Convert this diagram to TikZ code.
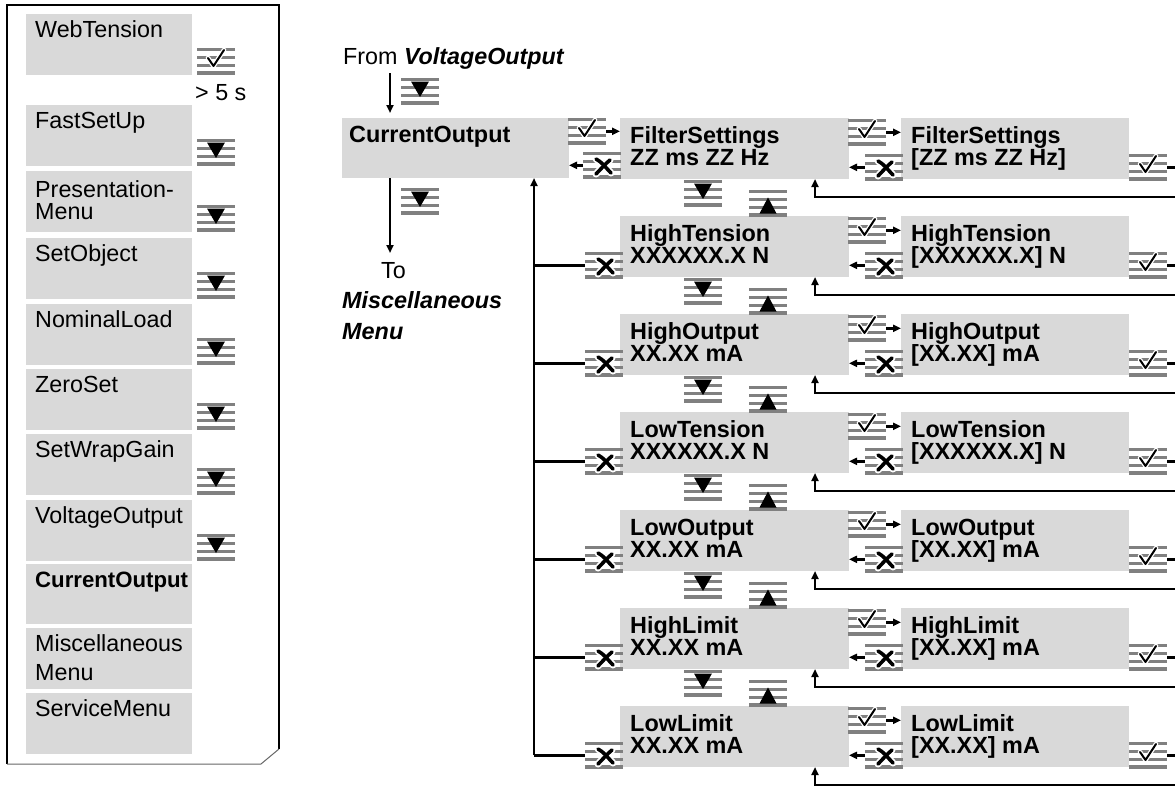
\documentclass[tikz,border=0pt]{standalone}
\usepackage{fontspec}
\setmainfont{Liberation Sans}
\usetikzlibrary{arrows.meta}
\definecolor{boxgray}{RGB}{217,217,217}
\definecolor{keygray}{RGB}{128,128,128}
\tikzset{
  mbox/.style={fill=boxgray, inner sep=0pt, outer sep=0pt, anchor=north west},
  rtxt/.style={inner sep=0pt, anchor=base west, font=\fontsize{23.3}{22}\selectfont},
  btxt/.style={inner sep=0pt, anchor=base west, font=\fontsize{23.4}{22}\selectfont\bfseries},
  bitxt/.style={inner sep=0pt, anchor=base west, font=\fontsize{23.4}{22}\selectfont\bfseries\itshape},
  keynode/.style={inner sep=0pt, outer sep=0pt, minimum width=38pt, minimum height=26.65pt, anchor=north west},
  conn/.style={line width=2.4pt},
  arr/.style={conn, -{Triangle[length=8pt,width=7pt]}},
}
\newcommand\keysymok{%
  \draw[white,line width=4.6pt,line cap=round,line join=round] (11,10)--(16.5,18)--(27,2);
  \draw[black,line width=2pt,line cap=round,line join=round] (11,10)--(16.5,18)--(27,2);}
\newcommand\keysymesc{%
  \foreach \cc/\ww in {white/7pt,black/3.6pt}{%
    \draw[\cc,line width=\ww,line cap=round] (13,7) .. controls (19,10) and (23,16) .. (28,21);
    \draw[\cc,line width=\ww,line cap=round] (27,8) .. controls (22,12) and (17,18) .. (13,22);}}
\newcommand\keysymdown{\fill[black] (10,3.5)--(28,3.5)--(19,19)--cycle;}
\newcommand\keysymup{\fill[black] (10.5,23.5)--(27.5,23.5)--(19,7.5)--cycle;}
\newcommand\keyicon[4]{%
  \node[keynode] (#1) at (#2,#3) {};
  \begin{scope}[shift={(#1.north west)}]
    \foreach \s in {0,7.75,15.5,23.25} \fill[keygray] (0,\s) rectangle (38,\s+3.4);
    \csname keysym#4\endcsname
  \end{scope}}
\begin{document}
\begin{tikzpicture}[x=1pt,y=-1pt]
\useasboundingbox (0,0) rectangle (1175,787);
\clip (0,0) rectangle (1175,787);

% ---------- left panel ----------
\draw[line width=1.2pt] (7,764) -- (7,5) -- (279,5) -- (279,749);
\draw[line width=1pt, black!60] (279,749) -- (261,764) -- (7,764);

\foreach \nm/\tp/\txt in {web/14/WebTension, fast/105/FastSetUp, set/238/SetObject,
   nom/304/NominalLoad, zero/369/ZeroSet, wrap/434/SetWrapGain, volt/500/VoltageOutput,
   serv/693/ServiceMenu}{
  \node[mbox, minimum width=166pt, minimum height=61pt] (l\nm) at (26,\tp) {};
  \node[rtxt] (l\nm t) at (35,\tp+23) {\txt};
}
\node[mbox, minimum width=166pt, minimum height=61pt] (lpres) at (26,171) {};
\node[rtxt] (lpresa) at (35,197) {Presentation-};
\node[rtxt] (lpresb) at (35,219) {Menu};
\node[mbox, minimum width=166pt, minimum height=60pt] (lcur) at (26,564) {};
\node[btxt, font=\fontsize{22.2}{22}\selectfont\bfseries] (lcurt) at (35,587) {CurrentOutput};
\node[mbox, minimum width=166pt, minimum height=61pt] (lmisc) at (26,628) {};
\node[rtxt] (lmisca) at (35,651) {Miscellaneous};
\node[rtxt] (lmiscb) at (35,680) {Menu};

\keyicon{lkweb}{197}{48}{ok}
\node[rtxt] (five) at (195,100) {> 5 s};
\foreach \nm/\tp in {fast/105, pres/171, set/238, nom/304, zero/369, wrap/434, volt/500}{
  \keyicon{lk\nm}{197}{\tp+34}{down}
}

% ---------- main diagram ----------
\node[rtxt] (from) at (343,64) {From \textbf{\textit{VoltageOutput}}};
\node[mbox, minimum width=227pt, minimum height=60pt] (cur) at (342,118) {};
\node[btxt] (curt) at (349,142) {CurrentOutput};
\coordinate (fromarr) at (390,73);
\draw[arr, shorten >=5pt] (fromarr) -- (fromarr |- cur.north);
\keyicon{dntop}{401}{78}{down}
\coordinate (toarr) at (390,253);
\draw[arr] (toarr |- cur.south) -- (toarr);
\keyicon{dnbot}{401}{188}{down}
\node[rtxt] (tot) at (381,278) {To};
\node[bitxt] (misct) at (342,308) {Miscellaneous};
\node[bitxt] (menut) at (342,339) {Menu};

\foreach \k/\na/\va/\vb in {0/FilterSettings/{ZZ ms ZZ Hz}/{[ZZ ms ZZ Hz]},
  1/HighTension/{XXXXXX.X N}/{[XXXXXX.X] N},
  2/HighOutput/{XX.XX mA}/{[XX.XX] mA},
  3/LowTension/{XXXXXX.X N}/{[XXXXXX.X] N},
  4/LowOutput/{XX.XX mA}/{[XX.XX] mA},
  5/HighLimit/{XX.XX mA}/{[XX.XX] mA},
  6/LowLimit/{XX.XX mA}/{[XX.XX] mA}}{
  \pgfmathsetmacro\T{118+98*\k}
  \node[mbox, minimum width=229pt, minimum height=61pt] (mid\k) at (620,\T) {};
  \node[btxt] (midA\k) at (630,\T+25) {\na};
  \node[btxt] (midB\k) at (630,\T+47) {\va};
  \node[mbox, minimum width=228pt, minimum height=61pt] (rgt\k) at (901,\T) {};
  \node[btxt] (rgtA\k) at (911,\T+25) {\na};
  \node[btxt] (rgtB\k) at (911,\T+47) {\vb};
  \keyicon{okA\k}{848}{\T+1}{ok}
  \keyicon{escB\k}{865}{\T+36}{esc}
  \keyicon{okR\k}{1129}{\T+36}{ok}
  \draw[arr] (okA\k.east) -- (okA\k.east -| rgt\k.west);
  \draw[arr] (escB\k.west) -- (escB\k.west -| mid\k.east);
  \coordinate (rc\k) at (1190,\T+79);
  \coordinate (lc\k) at (815,\T+79);
  \draw[arr] (okR\k.east) -| (rc\k) -- (lc\k) -- (lc\k |- mid\k.south);
}

% row 0 links with CurrentOutput
\keyicon{okC}{568}{118}{ok}
\draw[arr] (okC.east) -- (okC.east -| mid0.west);
\keyicon{escA0}{583}{152}{esc}
\draw[arr] (escA0.west) -- (escA0.west -| cur.east);

% bus back to CurrentOutput
\coordinate (bus) at (534,0);
\foreach \k in {1,...,6}{
  \pgfmathsetmacro\T{118+98*\k}
  \keyicon{escA\k}{585}{\T+36}{esc}
  \draw[conn] (escA\k.west) -- (escA\k.west -| bus);
}
\draw[arr] (bus |- escA6.west) -- (bus |- cur.south);

% up/down keys between rows
\foreach \k in {0,...,5}{
  \pgfmathsetmacro\T{118+98*\k}
  \keyicon{dn\k}{684}{\T+62}{down}
  \keyicon{up\k}{749}{\T+72}{up}
}
\end{tikzpicture}
\end{document}
